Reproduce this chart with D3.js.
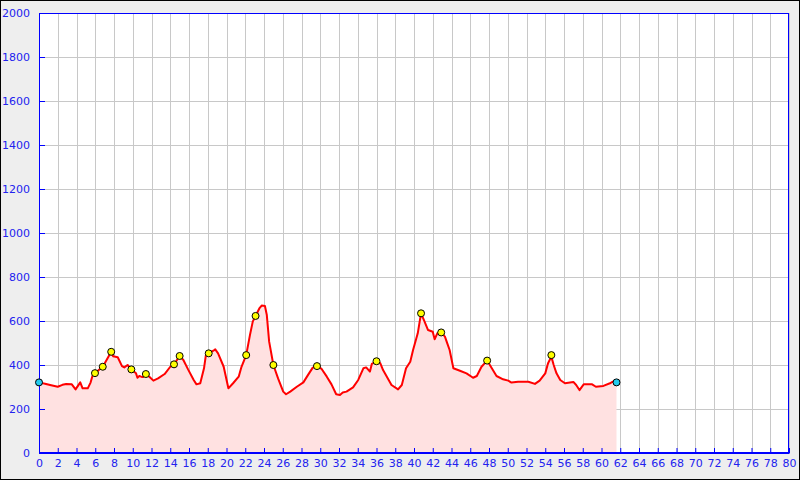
<!DOCTYPE html>
<html>
<head>
<meta charset="utf-8">
<script src="https://cdn.jsdelivr.net/npm/d3@7"></script>
<style>
  html, body { margin: 0; padding: 0; background: #eeeeee; }
  svg { display: block; }
</style>
</head>
<body>
<svg id="chart" width="800" height="480"></svg>
<script>
// Profile: distance (km) and elevation (m)
const distances = [0, 0.75, 1.3, 2.0, 2.5, 2.9, 3.5, 3.9, 4.4, 4.65, 5.2, 5.5, 5.7, 6.0, 6.4, 6.8, 7.3, 7.7, 7.9, 8.4,
  8.85, 9.1, 9.45, 9.85, 10.35, 10.5, 10.7, 10.9, 11.1, 11.4, 11.8, 12.2, 12.7, 13.4, 14.0, 14.4, 15.0, 15.4, 15.9, 16.5,
  16.8, 17.2, 17.6, 17.8, 18.1, 18.6, 18.8, 19.1, 19.7, 20.2, 20.7, 21.3, 21.6, 22.1, 22.5, 22.8, 23.1, 23.5, 23.75, 24.1,
  24.3, 24.55, 25.0, 25.5, 26.05, 26.35, 26.8, 27.5, 28.2, 28.7, 29.2, 29.65, 30.15, 30.7, 31.2, 31.7, 32.1, 32.4, 32.8, 33.5,
  34.05, 34.6, 34.9, 35.3, 35.5, 36.0, 36.4, 36.7, 37.3, 37.6, 38.3, 38.7, 39.15, 39.6, 39.9, 40.4, 40.75, 41.05, 41.5, 42.0,
  42.2, 42.5, 42.9, 43.3, 43.55, 43.8, 44.2, 44.9, 45.6, 46.3, 46.7, 47.2, 47.8, 48.3, 48.8, 49.5, 50.05, 50.4, 51.1, 52.2,
  52.9, 53.4, 54.0, 54.3, 54.65, 54.9, 55.2, 55.6, 56.1, 57.0, 57.3, 57.65, 58.1, 59.0, 59.4, 60.2, 60.9, 61.2, 61.6];
const elevations = [321, 314, 308, 301, 310, 314, 312, 289, 321, 294, 294, 320, 350, 362, 378, 392, 430, 460, 440, 435,
  395, 389, 400, 380, 362, 342, 350, 347, 345, 359, 345, 329, 339, 359, 392, 403, 441, 423, 380, 332,
  312, 317, 385, 445, 453, 465, 471, 453, 392, 294, 317, 347, 392, 445, 536, 597, 623, 657, 670, 668,
  627, 506, 400, 339, 279, 267, 279, 301, 321, 355, 388, 395, 382, 347, 312, 267, 264, 275, 279, 298,
  332, 385, 389, 370, 405, 417, 408, 377, 332, 309, 289, 309, 385, 415, 468, 544, 635, 605, 559, 551,
  517, 545, 548, 529, 498, 468, 385, 374, 362, 342, 350, 392, 420, 385, 350, 335, 329, 320, 324, 324,
  314, 329, 362, 408, 438, 400, 362, 332, 317, 323, 309, 286, 312, 312, 301, 305, 317, 324, 321];

// Waypoints (yellow markers)
const waypointKm = [5.97, 6.8, 7.7, 9.85, 11.4, 14.4, 15.0, 18.1, 22.1, 23.1, 25.0, 29.65, 36.0, 40.75, 42.9, 47.8, 54.65];
const waypointElev = [363, 392, 460, 380, 359, 403, 441, 453, 445, 623, 400, 395, 417, 635, 548, 420, 445];

// Start / finish (cyan markers)
const endpointKm = [0, 61.6];
const endpointElev = [321, 321];

// Axis ticks
const xTicks = d3.range(0, 81, 2);
const yTicks = d3.range(0, 2001, 200);

const svg = d3.select("#chart");
const W = 800, H = 480;
const plot = { left: 39, right: 789, top: 13, bottom: 453 };

svg.append("rect").attr("x", 0.5).attr("y", 0.5).attr("width", W - 1).attr("height", H - 1)
  .attr("fill", "#eeeeee").attr("stroke", "#000").attr("stroke-width", 1);

const x = d3.scaleLinear().domain([0, 80]).range([plot.left, plot.right]);
const y = d3.scaleLinear().domain([0, 2000]).range([plot.bottom, plot.top]);

svg.append("rect").attr("x", plot.left).attr("y", plot.top)
  .attr("width", plot.right - plot.left).attr("height", plot.bottom - plot.top).attr("fill", "#ffffff");

// grid
const grid = svg.append("g").attr("stroke", "#c8c8c8").attr("stroke-width", 1);
grid.selectAll("line.v").data(xTicks).join("line").attr("class", "v")
  .attr("x1", d => Math.round(x(d)) + 0.5).attr("x2", d => Math.round(x(d)) + 0.5)
  .attr("y1", plot.top).attr("y2", plot.bottom);
grid.selectAll("line.h").data(yTicks).join("line").attr("class", "h")
  .attr("y1", d => Math.round(y(d)) + 0.5).attr("y2", d => Math.round(y(d)) + 0.5)
  .attr("x1", plot.left).attr("x2", plot.right);

const profile = distances.map((d, i) => ({ km: d, ele: elevations[i] }));

const area = d3.area().x(d => x(d.km)).y0(y(0)).y1(d => y(d.ele));
svg.append("path").datum(profile).attr("d", area).attr("fill", "#ffe1e1");

const line = d3.line().x(d => x(d.km)).y(d => y(d.ele));
svg.append("path").datum(profile).attr("d", line)
  .attr("fill", "none").attr("stroke", "#ff0000").attr("stroke-width", 2).attr("stroke-linejoin", "round");

// frame
svg.append("rect").attr("x", plot.left + 0.5).attr("y", plot.top + 0.5)
  .attr("width", plot.right - plot.left - 1).attr("height", plot.bottom - plot.top - 1)
  .attr("fill", "none").attr("stroke", "#0000ff").attr("stroke-width", 1);

// axes
const axisColor = "#0000ff";
const labelColor = "#2222ee";
const xAxis = d3.axisBottom(x).tickValues(xTicks).tickFormat(d3.format("d"))
  .tickSizeInner(-5).tickSizeOuter(0).tickPadding(6);
const gx = svg.append("g").attr("transform", `translate(0,${plot.bottom})`).call(xAxis);
const yAxis = d3.axisLeft(y).tickValues(yTicks).tickFormat(d3.format("d"))
  .tickSizeInner(-6).tickSizeOuter(0).tickPadding(9);
const gy = svg.append("g").attr("transform", `translate(${plot.left},0)`).call(yAxis);
[gx, gy].forEach(g => {
  g.select(".domain").attr("stroke", axisColor);
  g.selectAll(".tick line").attr("stroke", axisColor);
  g.selectAll(".tick text").attr("fill", labelColor)
    .attr("font-family", "DejaVu Sans, sans-serif").attr("font-size", 11);
});

// markers
const wps = waypointKm.map((d, i) => ({ km: d, ele: waypointElev[i] }));
svg.append("g").selectAll("circle").data(wps).join("circle")
  .attr("cx", d => x(d.km)).attr("cy", d => y(d.ele)).attr("r", 3.5)
  .attr("fill", "#ffff00").attr("stroke", "#000").attr("stroke-width", 1);

const eps = endpointKm.map((d, i) => ({ km: d, ele: endpointElev[i] }));
svg.append("g").selectAll("circle").data(eps).join("circle")
  .attr("cx", d => x(d.km)).attr("cy", d => y(d.ele)).attr("r", 3.5)
  .attr("fill", "#22ccee").attr("stroke", "#000").attr("stroke-width", 1);
</script>
</body>
</html>
